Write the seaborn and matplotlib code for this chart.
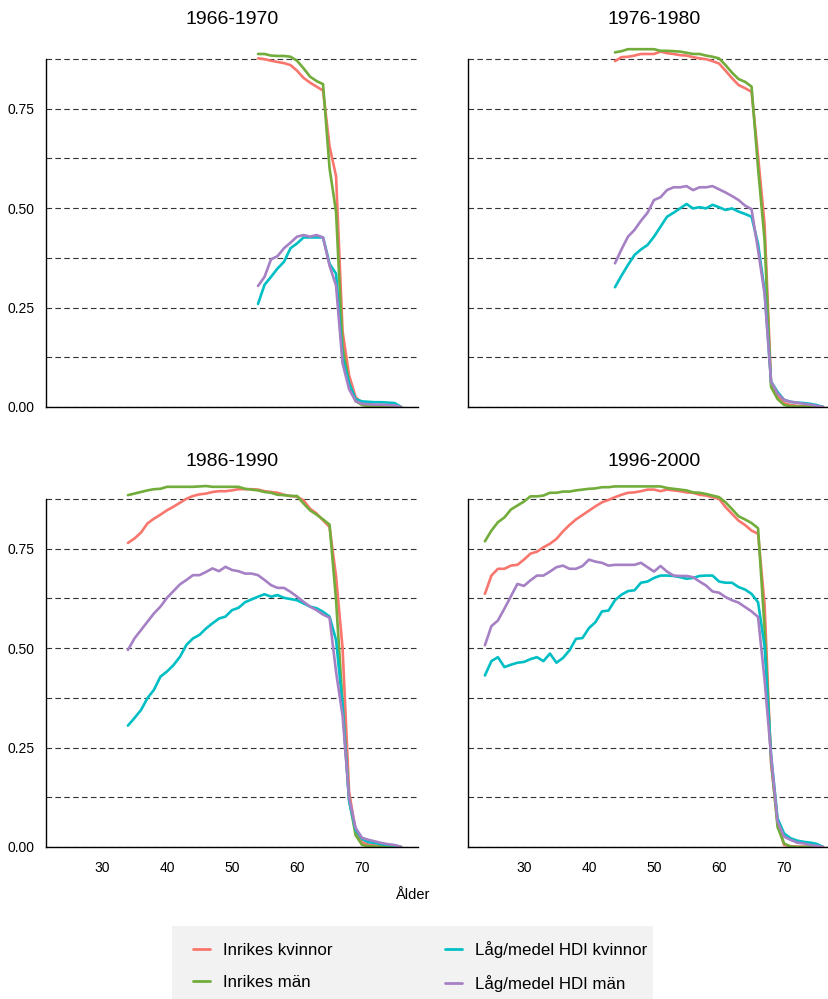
import numpy as np
import pandas as pd
import matplotlib
matplotlib.use('Agg')
import matplotlib.pyplot as plt
import seaborn as sns
from matplotlib.lines import Line2D
from matplotlib.patches import Rectangle

kohorter = ['1966-1970', '1976-1980', '1986-1990', '1996-2000']
grupper = ['Inrikes kvinnor', 'Inrikes män', 'Låg/medel HDI kvinnor', 'Låg/medel HDI män']
farger = ['#F8766D', '#72AC3A', '#00BFC4', '#A680C4']
start_alder = [54, 44, 34, 24]
slut_alder = 76

# 1966-1970, ålder 54-76
k1966_inr_kv = [.876, .874, .870, .867, .864, .859, .845, .827, .815, .805, .795, .655, .58, .19, .08, .025,
                .01, .005, .004, .003, .003, .002, 0]
k1966_inr_man = [.887, .887, .883, .882, .882, .880, .870, .851, .830, .819, .811, .60, .49, .15, .06, .015,
                 .005, .002, .001, .001, .001, .001, 0]
k1966_hdi_kv = [.259, .307, .327, .348, .365, .399, .411, .426, .426, .426, .426, .36, .335, .125, .06, .02,
                .014, .013, .012, .012, .011, .01, 0]
k1966_hdi_man = [.304, .327, .371, .379, .399, .413, .428, .432, .428, .432, .426, .355, .305, .11, .045, .015,
                 .008, .007, .006, .006, .005, .004, 0]

# 1976-1980, ålder 44-76
k1976_inr_kv = [.869, .879, .880, .883, .887, .887, .887, .893, .889, .887,
                .884, .883, .879, .876, .874, .869, .863, .845, .826, .809,
                .801, .792, .63, .46, .06, .03, .01, .005, .003, .002, .002, .002, 0]
k1976_inr_man = [.891, .894, .899, .899, .899, .899, .899, .895, .895, .894,
                 .893, .890, .887, .887, .883, .880, .876, .859, .840, .824,
                 .817, .805, .60, .42, .05, .02, .005, .002, .001, .001, .001, .001, 0]
k1976_hdi_kv = [.301, .330, .357, .382, .396, .407, .428, .453, .478, .488,
                .499, .510, .499, .502, .499, .508, .502, .495, .499, .491,
                .485, .478, .41, .293, .064, .038, .018, .013, .011, .010, .008, .005, 0]
k1976_hdi_man = [.361, .396, .428, .445, .468, .488, .520, .527, .545, .552,
                 .552, .555, .545, .552, .552, .555, .547, .539, .530, .520,
                 .506, .497, .394, .285, .064, .034, .018, .013, .011, .008, .006, .003, 0]

# 1986-1990, ålder 34-76
k1986_inr_kv = [.764, .775, .790, .813, .825, .835, .846, .855, .865, .875,
                .882, .886, .888, .892, .894, .894, .896, .899, .899, .899,
                .898, .894, .892, .890, .885, .882, .880, .871, .850, .838,
                .821, .804, .68, .50, .14, .04, .012, .006, .004, .003, .002, .002, 0]
k1986_inr_man = [.884, .888, .892, .896, .899, .900, .905, .905, .905, .905,
                 .905, .906, .907, .905, .905, .905, .905, .905, .900, .898,
                 .896, .892, .890, .885, .884, .882, .882, .863, .846, .835,
                 .823, .810, .62, .36, .12, .03, .005, .002, .001, .001, .001, .001, 0]
k1986_hdi_kv = [.305, .324, .344, .374, .395, .428, .441, .457, .478, .508,
                .524, .533, .549, .562, .574, .579, .595, .601, .615, .622,
                .629, .635, .629, .633, .626, .623, .620, .612, .604, .600,
                .591, .579, .52, .357, .115, .043, .02, .012, .01, .007, .005, .004, 0]
k1986_hdi_man = [.495, .524, .545, .566, .587, .604, .626, .643, .660, .671,
                 .683, .683, .691, .700, .693, .704, .696, .693, .687, .687,
                 .683, .671, .658, .651, .651, .641, .629, .616, .604, .595,
                 .584, .576, .44, .33, .123, .048, .023, .018, .014, .01, .007, .005, 0]

# 1996-2000, ålder 24-76
k1996_inr_kv = [.636, .682, .699, .699, .707, .709, .722, .737, .742, .753,
                .762, .774, .793, .809, .823, .834, .845, .856, .866, .872,
                .879, .885, .890, .891, .894, .898, .898, .894, .898, .896,
                .894, .891, .890, .885, .883, .879, .875, .854, .837, .820,
                .809, .795, .787, .61, .21, .06, .005, .002, .001, .001, .001, .001, 0]
k1996_inr_man = [.768, .795, .816, .828, .848, .858, .868, .881, .881, .883,
                 .890, .890, .893, .893, .896, .898, .900, .901, .904, .904,
                 .906, .906, .906, .906, .906, .906, .906, .906, .902, .900,
                 .898, .896, .891, .890, .887, .883, .879, .866, .849, .831,
                 .823, .814, .801, .55, .22, .05, .009, .001, 0, 0, 0, 0, 0]
k1996_hdi_kv = [.431, .467, .477, .452, .458, .463, .465, .472, .477, .467,
                .486, .463, .475, .494, .523, .525, .550, .565, .592, .594,
                .620, .634, .643, .645, .664, .667, .676, .682, .682, .681,
                .678, .674, .676, .681, .682, .682, .667, .664, .664, .653,
                .647, .636, .615, .505, .23, .072, .034, .022, .016, .013, .011, .008, 0]
k1996_hdi_man = [.507, .555, .569, .599, .630, .661, .656, .670, .682, .682,
                 .692, .703, .707, .699, .699, .706, .722, .717, .714, .707,
                 .709, .709, .709, .709, .714, .703, .692, .706, .692, .682,
                 .681, .681, .678, .667, .657, .642, .639, .628, .620, .614,
                 .603, .592, .578, .42, .23, .064, .026, .018, .011, .009, .005, .003, 0]

serier = {
    '1966-1970': [k1966_inr_kv, k1966_inr_man, k1966_hdi_kv, k1966_hdi_man],
    '1976-1980': [k1976_inr_kv, k1976_inr_man, k1976_hdi_kv, k1976_hdi_man],
    '1986-1990': [k1986_inr_kv, k1986_inr_man, k1986_hdi_kv, k1986_hdi_man],
    '1996-2000': [k1996_inr_kv, k1996_inr_man, k1996_hdi_kv, k1996_hdi_man],
}

rader = []
for kohort, start in zip(kohorter, start_alder):
    alder = list(range(start, slut_alder + 1))
    for grupp, varden in zip(grupper, serier[kohort]):
        for a, v in zip(alder, varden):
            rader.append({'kohort': kohort, 'grupp': grupp, 'Ålder': a, 'andel': v})
df = pd.DataFrame(rader)

sns.set_style('white')
plt.rcParams['font.family'] = ['Liberation Sans', 'DejaVu Sans']
plt.rcParams['text.color'] = 'black'

W, H = 829, 999
fig = plt.figure(figsize=(W / 100, H / 100), dpi=100)

palett = dict(zip(grupper, farger))
x_vanster = [46, 468, 46, 468]
y_botten = [407, 407, 847, 847]
ymax = 0.93

for i, kohort in enumerate(kohorter):
    hojd = ymax * 398
    ax = fig.add_axes([x_vanster[i] / W, (H - y_botten[i]) / H, 372 / W, hojd / H])
    sns.lineplot(data=df[df['kohort'] == kohort], x='Ålder', y='andel', hue='grupp',
                 hue_order=grupper, palette=palett, linewidth=1.9, legend=False, ax=ax)
    ax.set_xlim(21.4, 78.6)
    ax.set_ylim(0, ymax)
    ax.set_yticks([0, 0.25, 0.5, 0.75])
    ax.set_yticks([0.125, 0.375, 0.625, 0.875], minor=True)
    ax.set_xticks([30, 40, 50, 60, 70])
    ax.grid(True, which='both', axis='y', linestyle=(0, (5, 3)), color='#333333', linewidth=0.8)
    ax.grid(False, axis='x')
    ax.set_axisbelow(True)
    for s in ['top', 'right']:
        ax.spines[s].set_visible(False)
    for s in ['left', 'bottom']:
        ax.spines[s].set_color('black')
        ax.spines[s].set_linewidth(1.0)
    ax.spines['left'].set_bounds(0, 0.875)
    ax.tick_params(axis='both', which='both', length=0, labelsize=10, colors='black')
    ax.tick_params(axis='y', pad=8)
    ax.tick_params(axis='x', pad=10)
    ax.yaxis.set_major_formatter(plt.FuncFormatter(lambda v, p: f'{v:.2f}'))
    ax.set_xlabel('')
    ax.set_ylabel('')
    if i % 2 == 1:
        ax.set_yticklabels([])
    if i < 2:
        ax.set_xticklabels([])
    tx = (x_vanster[i] + 186) / W
    ty = 1 - (20 if i < 2 else 462) / H
    fig.text(tx, ty, kohort, ha='center', va='center', fontsize=14)

fig.text(412 / W, 1 - 895 / H, 'Ålder', ha='center', va='center', fontsize=10.5)

fig.patches.append(Rectangle((172 / W, 0), 481 / W, (H - 926) / H, transform=fig.transFigure,
                             facecolor='#f2f2f2', edgecolor='none', zorder=0))
handles = [Line2D([0], [0], color=c, lw=2) for c in farger]
fig.legend(handles, grupper, ncol=2, loc='upper left', bbox_to_anchor=(193 / W, 1 - 941 / H),
           frameon=False, fontsize=12.2, handlelength=1.0, handletextpad=0.8, columnspacing=6.6,
           borderpad=0, borderaxespad=0, labelspacing=1.0)

fig.savefig('out.png', dpi=100)
